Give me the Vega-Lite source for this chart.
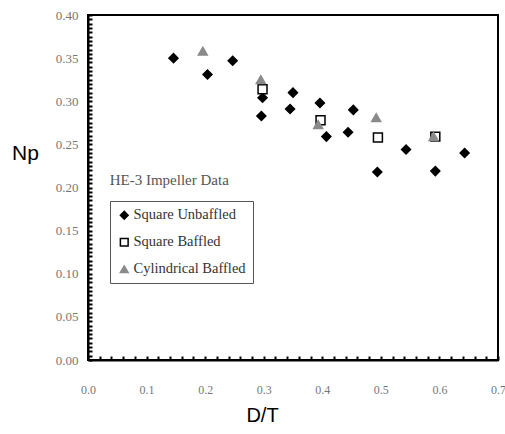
{
  "$schema": "https://vega.github.io/schema/vega-lite/v6.json",
  "width": 410,
  "height": 345,
  "autosize": "none",
  "padding": {"left": 88, "top": 15, "right": 7, "bottom": 74},
  "background": "white",
  "config": {
    "view": {"stroke": "black", "strokeWidth": 2},
    "axis": {"labelFont": "Liberation Serif", "labelColor": "#777777", "labelFontSize": 13, "labelOverlap": false, "labelFlush": false, "labelBound": false, "titleFont": "Liberation Sans", "titleFontWeight": "normal", "titleColor": "black", "titleFontSize": 20, "domainColor": "black", "domainWidth": 2, "tickColor": "black", "tickWidth": 2, "grid": false}
  },
  "datasets": {
    "points": [
      {"dt": 0.146, "np": 0.350, "series": "Square Unbaffled"},
      {"dt": 0.204, "np": 0.331, "series": "Square Unbaffled"},
      {"dt": 0.247, "np": 0.347, "series": "Square Unbaffled"},
      {"dt": 0.298, "np": 0.304, "series": "Square Unbaffled"},
      {"dt": 0.296, "np": 0.283, "series": "Square Unbaffled"},
      {"dt": 0.350, "np": 0.310, "series": "Square Unbaffled"},
      {"dt": 0.345, "np": 0.291, "series": "Square Unbaffled"},
      {"dt": 0.396, "np": 0.298, "series": "Square Unbaffled"},
      {"dt": 0.407, "np": 0.259, "series": "Square Unbaffled"},
      {"dt": 0.453, "np": 0.290, "series": "Square Unbaffled"},
      {"dt": 0.444, "np": 0.264, "series": "Square Unbaffled"},
      {"dt": 0.494, "np": 0.218, "series": "Square Unbaffled"},
      {"dt": 0.543, "np": 0.244, "series": "Square Unbaffled"},
      {"dt": 0.593, "np": 0.219, "series": "Square Unbaffled"},
      {"dt": 0.643, "np": 0.240, "series": "Square Unbaffled"},
      {"dt": 0.196, "np": 0.358, "series": "Cylindrical Baffled"},
      {"dt": 0.295, "np": 0.325, "series": "Cylindrical Baffled"},
      {"dt": 0.393, "np": 0.273, "series": "Cylindrical Baffled"},
      {"dt": 0.492, "np": 0.281, "series": "Cylindrical Baffled"},
      {"dt": 0.590, "np": 0.259, "series": "Cylindrical Baffled"},
      {"dt": 0.298, "np": 0.314, "series": "Square Baffled"},
      {"dt": 0.397, "np": 0.278, "series": "Square Baffled"},
      {"dt": 0.495, "np": 0.258, "series": "Square Baffled"},
      {"dt": 0.593, "np": 0.259, "series": "Square Baffled"}
    ],
    "note": [{"dt": 0.037, "np": 0.209, "label": "HE-3 Impeller Data"}]
  },
  "layer": [
    {
      "data": {"name": "points"},
      "mark": {"type": "point", "filled": true, "opacity": 1, "strokeWidth": 1.5},
      "encoding": {
        "x": {
          "field": "dt", "type": "quantitative", "title": "D/T",
          "scale": {"domain": [0, 0.7], "nice": false, "zero": false},
          "axis": {
            "values": [0,0.02,0.04,0.06,0.08,0.1,0.12,0.14,0.16,0.18,0.2,0.22,0.24,0.26,0.28,0.3,0.32,0.34,0.36,0.38,0.4,0.42,0.44,0.46,0.48,0.5,0.52,0.54,0.56,0.58,0.6,0.62,0.64,0.66,0.68,0.7],
            "tickCount": 200,
            "labelExpr": "abs(datum.value*10 - round(datum.value*10)) < 0.001 ? format(datum.value, '.1f') : ''",
            "labelFontSize": 12,
            "tickSize": -4,
            "labelPadding": 33,
            "labelBaseline": "middle",
            "titleAngle": 0,
            "titleX": 174,
            "titleY": 55,
            "titleBaseline": "middle",
            "titleAnchor": "middle"
          }
        },
        "y": {
          "field": "np", "type": "quantitative", "title": "Np",
          "scale": {"domain": [0, 0.4], "nice": false, "zero": false},
          "axis": {
            "values": [0,0.005,0.01,0.015,0.02,0.025,0.03,0.035,0.04,0.045,0.05,0.055,0.06,0.065,0.07,0.075,0.08,0.085,0.09,0.095,0.1,0.105,0.11,0.115,0.12,0.125,0.13,0.135,0.14,0.145,0.15,0.155,0.16,0.165,0.17,0.175,0.18,0.185,0.19,0.195,0.2,0.205,0.21,0.215,0.22,0.225,0.23,0.235,0.24,0.245,0.25,0.255,0.26,0.265,0.27,0.275,0.28,0.285,0.29,0.295,0.3,0.305,0.31,0.315,0.32,0.325,0.33,0.335,0.34,0.345,0.35,0.355,0.36,0.365,0.37,0.375,0.38,0.385,0.39,0.395,0.4],
            "tickCount": 200,
            "labelExpr": "abs(datum.value*20 - round(datum.value*20)) < 0.001 ? format(datum.value, '.2f') : ''",
            "tickSize": -4,
            "labelPadding": 14,
            "titleAngle": 0,
            "titleFontSize": 21,
            "titleX": -63,
            "titleY": 138,
            "titleBaseline": "middle",
            "titleAlign": "center"
          }
        },
        "shape": {
          "field": "series", "type": "nominal", "title": null,
          "scale": {"domain": ["Square Unbaffled", "Square Baffled", "Cylindrical Baffled"], "range": ["diamond", "square", "triangle-up"]},
          "legend": {
            "orient": "none", "legendX": 22, "legendY": 186,
            "strokeColor": "#555555", "padding": 7,
            "labelFont": "Liberation Serif", "labelFontSize": 14.5, "labelColor": "#333333",
            "symbolSize": 60, "rowPadding": 11, "labelOffset": 2
          }
        },
        "fill": {
          "field": "series", "type": "nominal", "title": null,
          "scale": {"domain": ["Square Unbaffled", "Square Baffled", "Cylindrical Baffled"], "range": ["black", "white", "#8a8a8a"]}
        },
        "stroke": {
          "field": "series", "type": "nominal", "title": null,
          "scale": {"domain": ["Square Unbaffled", "Square Baffled", "Cylindrical Baffled"], "range": ["black", "black", "#8a8a8a"]}
        },
        "size": {"value": 80},
        "order": {"field": "series", "sort": "descending"}
      }
    },
    {
      "data": {"name": "note"},
      "mark": {"type": "text", "align": "left", "baseline": "middle", "font": "Liberation Serif", "fontSize": 15, "color": "#555555"},
      "encoding": {
        "x": {"field": "dt", "type": "quantitative"},
        "y": {"field": "np", "type": "quantitative"},
        "text": {"field": "label"}
      }
    }
  ]
}
